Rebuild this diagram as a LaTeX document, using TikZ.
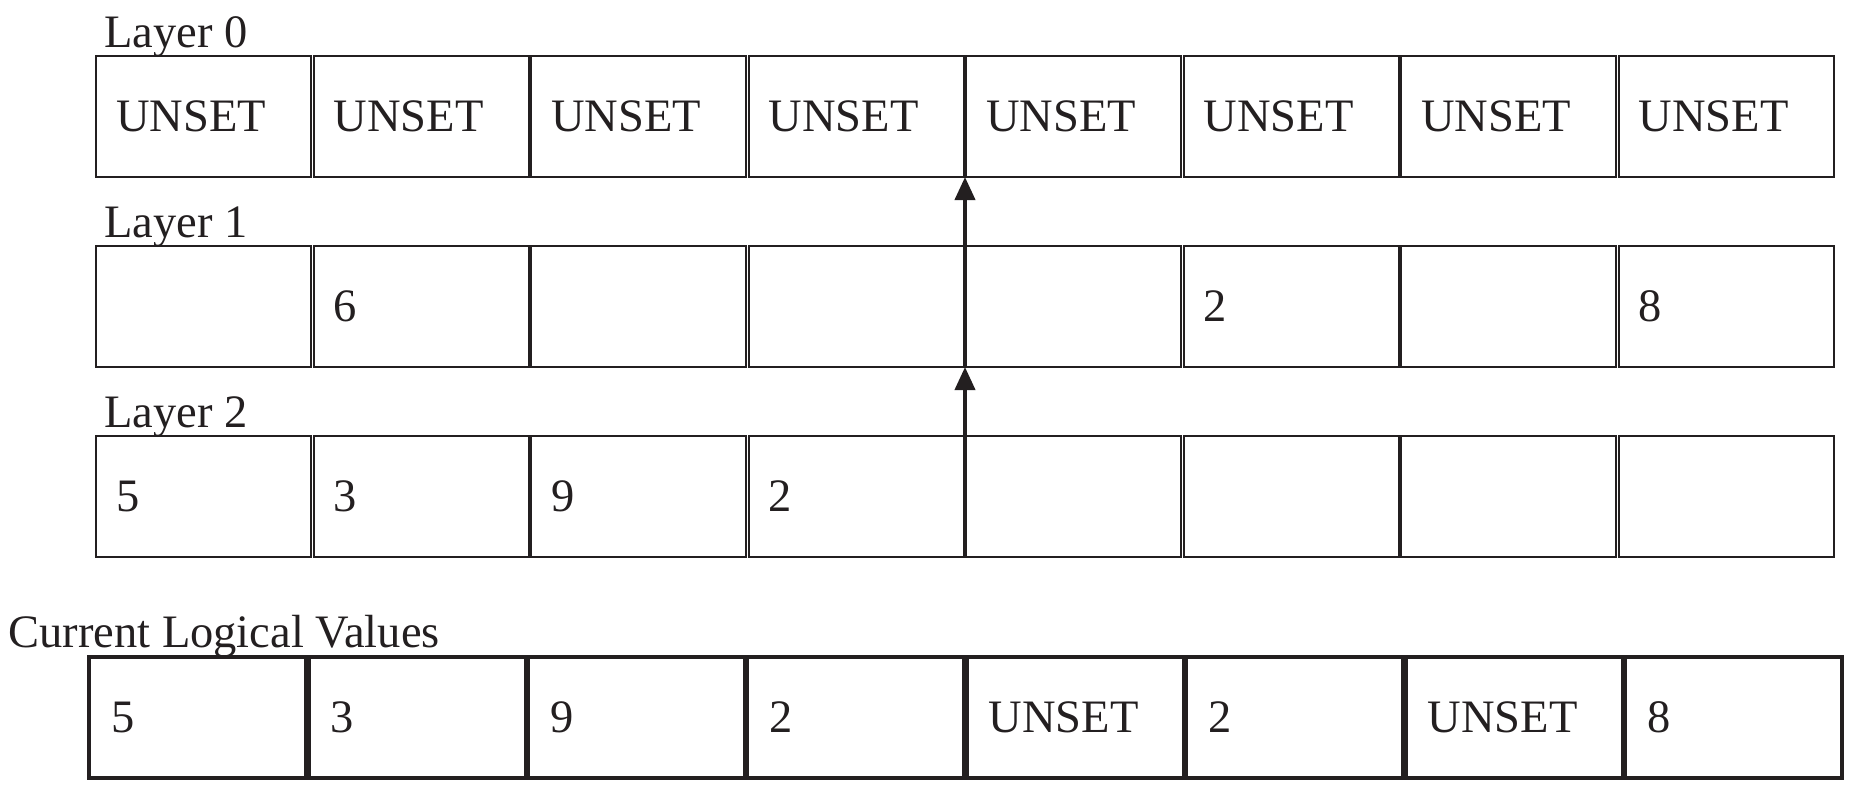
\documentclass[tikz,border=0pt]{standalone}
\usepackage{fontspec}
\setmainfont{Liberation Serif}
\usetikzlibrary{arrows.meta,calc}
\definecolor{ink}{HTML}{231F20}
\begin{document}
\begin{tikzpicture}[x=0.5pt,y=-0.5pt,
  font=\fontsize{23.25pt}{28pt}\selectfont,
  cell/.style={draw=ink, line width=1pt, minimum width=107.5pt, minimum height=60.5pt,
    inner xsep=10pt, inner ysep=0pt, outer sep=0pt, text width=87.5pt, align=left, text=ink},
  bcell/.style={cell, line width=2pt, minimum width=108.5pt, inner xsep=11pt, text width=86.5pt},
  lab/.style={anchor=base west, inner sep=0pt, text=ink},
  arr/.style={draw=ink, line width=2pt, -{Triangle[length=11.5pt,width=10pt]}}]
\useasboundingbox (0,0) rectangle (1856,789);
% layer labels
\node[lab] (l0) at (104,47) {Layer 0};
\node[lab] (l1) at (104,237) {Layer 1};
\node[lab] (l2) at (104,427) {Layer 2};
\node[lab] (lc) at (8,647) {Current Logical Values};
% layer 0
\foreach \t [count=\c] in {UNSET,UNSET,UNSET,UNSET,UNSET,UNSET,UNSET,UNSET}
  \node[cell] (r0c\c) at ({95+217.5*(\c-0.5)},116.5) {\t};
% layer 1
\foreach \t [count=\c] in {{},6,{},{},{},2,{},8}
  \node[cell] (r1c\c) at ({95+217.5*(\c-0.5)},306.5) {\t};
% layer 2
\foreach \t [count=\c] in {5,3,9,2,{},{},{},{}}
  \node[cell] (r2c\c) at ({95+217.5*(\c-0.5)},496.5) {\t};
% current logical values
\foreach \t [count=\c] in {5,3,9,2,UNSET,2,UNSET,8}
  \node[bcell] (bc\c) at ({88+219.4*(\c-0.5)},717.5) {\t};
% arrows
\coordinate (m2) at ($(r2c4.south east)!0.5!(r2c5.south west)$);
\coordinate (m1) at ($(r1c4.south east)!0.5!(r1c5.south west)$);
\coordinate (m0) at ($(r0c4.south east)!0.5!(r0c5.south west)$);
\draw[arr] (m2) -- (m1);
\draw[arr] (m1) -- (m0);
\end{tikzpicture}
\end{document}
